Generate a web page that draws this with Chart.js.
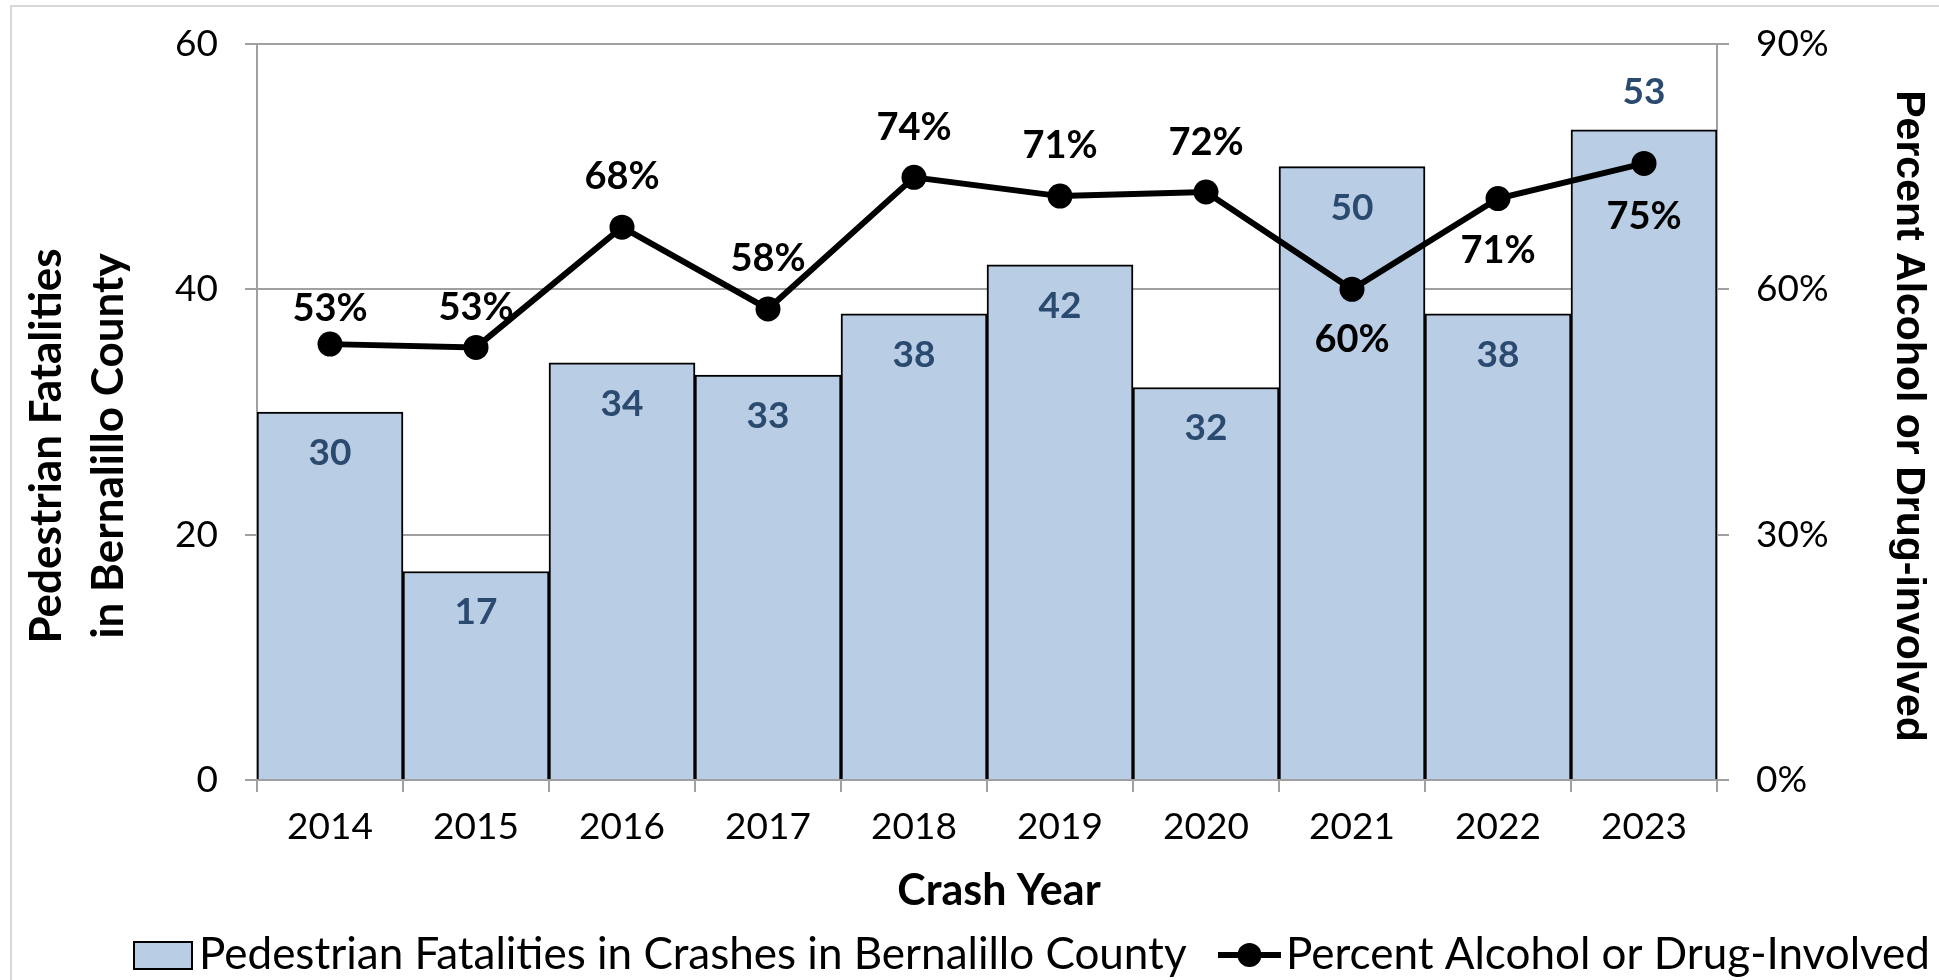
<!DOCTYPE html>
<html><head><meta charset="utf-8">
<script src="https://cdn.jsdelivr.net/npm/chart.js@4.4.1/dist/chart.umd.min.js"></script>
<style>
html,body{margin:0;padding:0;background:#fff;overflow:hidden}
#wrap{position:absolute;left:0;top:0;width:1939px;height:980px;overflow:hidden}
#frame{position:absolute;left:10px;top:5px;width:2000px;height:1000px;border-left:2px solid #d9d9d9;border-top:2px solid #d9d9d9}
canvas{position:absolute;left:0;top:0}
</style></head><body>
<div id="wrap"><div id="frame"></div><canvas id="c" width="1939" height="980"></canvas></div>
<script>
const years = ['2014','2015','2016','2017','2018','2019','2020','2021','2022','2023'];
const fatalities = [30,17,34,33,38,42,32,50,38,53];
const pctInvolved = [53.3,52.9,67.6,57.6,73.7,71.4,71.9,60.0,71.1,75.4];
const leftTickStep = 20;
const leftMax = 60;
const rightTickStep = 30;
const rightMax = 90;
const barLabel = 'Pedestrian Fatalities in Crashes in Bernalillo County';
const lineLabel = 'Percent Alcohol or Drug-Involved';
const xTitle = 'Crash Year';
const yTitle = ['Pedestrian Fatalities','in Bernalillo County'];
const y2Title = 'Percent Alcohol or Drug-involved';

const FONT = 'Lato';
const GRID = '#a0a0a0';
const BAR_FILL = '#B9CDE5';
const BAR_TEXT = '#2B4A6F';

const labelPlugin = {
  id: 'customLabels',
  afterDatasetsDraw(chart) {
    const ctx = chart.ctx;
    ctx.save();
    ctx.textAlign = 'center';
    ctx.textBaseline = 'middle';
    const bm = chart.getDatasetMeta(0);
    ctx.font = 'bold 37px ' + FONT;
    ctx.fillStyle = BAR_TEXT;
    const outside = [9];
    bm.data.forEach((el, i) => {
      const v = chart.data.datasets[0].data[i];
      const y = outside.includes(i) ? el.y - 38 : el.y + 41;
      ctx.fillText(String(v), el.x, y);
    });
    const lm = chart.getDatasetMeta(1);
    const offs = [-35,-40,-50,-50,-50,-50,-49,50,52,53];
    ctx.font = 'bold 38px ' + FONT;
    ctx.fillStyle = '#000';
    lm.data.forEach((el, i) => {
      const v = chart.data.datasets[1].data[i];
      ctx.fillText(Math.round(v) + '%', el.x, el.y + offs[i]);
    });
    ctx.restore();
  },
  afterDraw(chart) {
    const ctx = chart.ctx;
    ctx.save();
    ctx.fillStyle = '#000';
    ctx.textAlign = 'center';
    ctx.textBaseline = 'middle';
    ctx.font = 'bold 43px ' + FONT;
    ctx.fillText(xTitle, 999, 891);
    ctx.save();
    ctx.translate(47, 446);
    ctx.rotate(-Math.PI/2);
    ctx.font = 'bold 44px ' + FONT;
    ctx.fillText(yTitle[0], 0, 0);
    ctx.fillText(yTitle[1], 0, 62);
    ctx.restore();
    ctx.save();
    ctx.translate(1908, 416);
    ctx.rotate(Math.PI/2);
    ctx.font = 'bold 41px "Liberation Sans"';
    ctx.fillText(y2Title, 0, 0);
    ctx.restore();
    const ly = 955;
    ctx.fillStyle = BAR_FILL;
    ctx.fillRect(134, 942, 58, 27);
    ctx.strokeStyle = '#000';
    ctx.lineWidth = 2;
    ctx.strokeRect(134, 942, 58, 27);
    ctx.font = '44px ' + FONT;
    ctx.fillStyle = '#000';
    ctx.textAlign = 'left';
    ctx.fillText(chart.data.datasets[0].label, 199, ly);
    ctx.lineWidth = 6;
    ctx.beginPath();
    ctx.moveTo(1218, ly); ctx.lineTo(1281, ly); ctx.stroke();
    ctx.beginPath();
    ctx.arc(1249.5, ly, 12, 0, Math.PI*2); ctx.fill();
    ctx.fillText(chart.data.datasets[1].label, 1286, ly);
    ctx.restore();
  }
};

new Chart(document.getElementById('c'), {
  data: {
    labels: years,
    datasets: [
      {
        type: 'bar', label: barLabel, data: fatalities, yAxisID: 'y',
        backgroundColor: BAR_FILL, borderColor: '#000', borderWidth: 2,
        barPercentage: 1, categoryPercentage: 1, order: 2
      },
      {
        type: 'line', label: lineLabel, data: pctInvolved, yAxisID: 'y1',
        borderColor: '#000', borderWidth: 6, pointRadius: 12.5, pointHoverRadius: 12.5,
        pointBackgroundColor: '#000', pointBorderWidth: 0, tension: 0, order: 1
      }
    ]
  },
  options: {
    responsive: false, devicePixelRatio: 1, animation: false,
    layout: { padding: { left: 0, right: 0, top: 44, bottom: 0 } },
    plugins: { legend: { display: false }, tooltip: { enabled: false } },
    scales: {
      x: {
        grid: { offset: true, drawOnChartArea: false, drawTicks: true, tickLength: 12, color: GRID, lineWidth: 2 },
        border: { color: GRID, width: 2 },
        ticks: { font: { family: FONT, size: 37 }, color: '#000', padding: 13, maxRotation: 0 },
        afterFit: s => { s.height = 200; s.paddingLeft = 0; s.paddingRight = 0; }
      },
      y: {
        position: 'left', min: 0, max: leftMax,
        ticks: { stepSize: leftTickStep, font: { family: FONT, size: 37 }, color: '#000', padding: 27 },
        grid: { color: GRID, lineWidth: 2, tickLength: 12 },
        border: { color: GRID, width: 2 },
        afterFit: s => { s.width = 257; s.paddingTop = 0; s.paddingBottom = 0; }
      },
      y1: {
        position: 'right', min: 0, max: rightMax,
        ticks: { stepSize: rightTickStep, font: { family: FONT, size: 37 }, color: '#000', padding: 27, callback: v => v + '%' },
        grid: { drawOnChartArea: false, color: GRID, lineWidth: 2, tickLength: 12 },
        border: { color: GRID, width: 2 },
        afterFit: s => { s.width = 222; s.paddingTop = 0; s.paddingBottom = 0; }
      }
    }
  },
  plugins: [labelPlugin]
});
</script>
</body></html>
